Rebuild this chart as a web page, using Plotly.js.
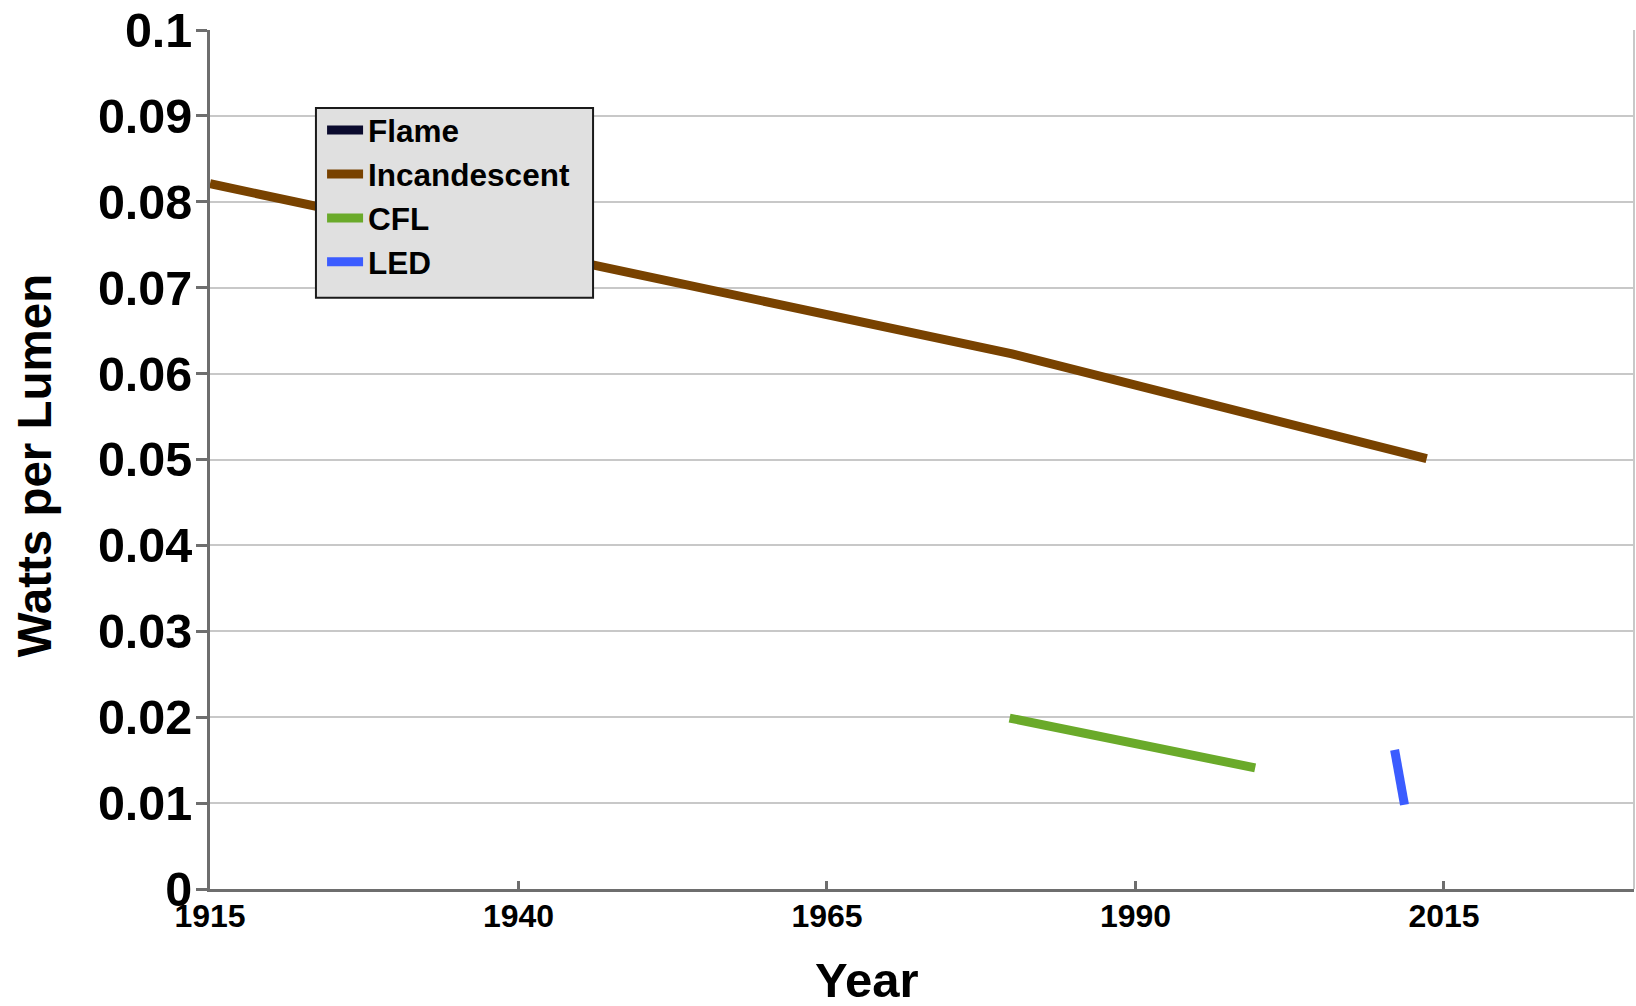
<!DOCTYPE html>
<html>
<head>
<meta charset="utf-8">
<script src="https://cdn.plot.ly/plotly-3.0.1.min.js"></script>
<style>
  html, body { margin: 0; padding: 0; background: #ffffff; }
  #chart { width: 1636px; height: 1006px; }
</style>
</head>
<body>
<div id="chart"></div>
<script>
// Lighting efficiency over time, in watts per lumen
const flameYears = [1915];
const flameWpl = [null];

const incandescentYears = [1915, 1980, 2013.6];
const incandescentWpl = [0.0821, 0.0623, 0.0501];

const cflYears = [1979.8, 1999.7];
const cflWpl = [0.0199, 0.0141];

const ledYears = [2011, 2011.8];
const ledWpl = [0.0162, 0.0098];

const xTickVals = [1915, 1940, 1965, 1990, 2015];
const xTickText = ['1915', '1940', '1965', '1990', '2015'];
const yTickVals = [0, 0.01, 0.02, 0.03, 0.04, 0.05, 0.06, 0.07, 0.08, 0.09, 0.1];
const yTickText = ['0', '0.01', '0.02', '0.03', '0.04', '0.05', '0.06', '0.07', '0.08', '0.09', '0.1'];

const FONT = 'Liberation Sans, Arial, Helvetica, sans-serif';
const AXIS_GRAY = '#6e6e6e';
const GRID_GRAY = '#c8c8c8';

function series(name, x, y, color) {
  return {
    type: 'scatter',
    mode: 'lines',
    name: name,
    x: x,
    y: y,
    connectgaps: false,
    line: { color: color, width: 9 },
    hoverinfo: 'x+y+name'
  };
}

const traces = [
  series('Flame', flameYears, flameWpl, '#0b0b2e'),
  series('Incandescent', incandescentYears, incandescentWpl, '#784200'),
  series('CFL', cflYears, cflWpl, '#6aaa2a'),
  series('LED', ledYears, ledWpl, '#3b5cff')
];

const layout = {
  width: 1636,
  height: 1006,
  margin: { l: 210, r: 2, t: 30, b: 116.5, pad: 0 },
  paper_bgcolor: '#ffffff',
  plot_bgcolor: '#ffffff',
  font: { family: FONT, color: '#000000' },
  showlegend: true,
  legend: {
    x: 0.0787, y: 0.915, xanchor: 'left', yanchor: 'top',
    bgcolor: 'rgba(0,0,0,0)', borderwidth: 0,
    itemwidth: 36,
    font: { family: FONT, size: 31.5, weight: 'bold', color: '#000000' },
    traceorder: 'normal'
  },
  xaxis: {
    range: [1915, 2030.4],
    tickmode: 'array',
    tickvals: xTickVals,
    ticktext: xTickText,
    ticks: 'inside', ticklen: 8, tickwidth: 3, tickcolor: AXIS_GRAY,
    ticklabelstandoff: -3,
    showline: true, linecolor: AXIS_GRAY, linewidth: 3,
    showgrid: false, zeroline: false,
    tickfont: { family: FONT, size: 32, weight: 'bold', color: '#000000' },
    fixedrange: true
  },
  yaxis: {
    range: [0, 0.1],
    tickmode: 'array',
    tickvals: yTickVals,
    ticktext: yTickText,
    ticks: 'outside', ticklen: 11, tickwidth: 3, tickcolor: AXIS_GRAY,
    ticklabelstandoff: -6,
    showline: true, linecolor: AXIS_GRAY, linewidth: 3,
    showgrid: true, gridcolor: GRID_GRAY, gridwidth: 2,
    zeroline: false,
    tickfont: { family: FONT, size: 48.5, weight: 'bold', color: '#000000' },
    fixedrange: true
  },
  shapes: [
    // right-hand frame line of the plot area
    {
      type: 'line', xref: 'x domain', yref: 'y domain',
      x0: 1, x1: 1, y0: 0, y1: 1,
      line: { color: GRID_GRAY, width: 2 }
    },
    // legend panel
    {
      type: 'rect', xref: 'paper', yref: 'paper', layer: 'above',
      x0: 0.0744, x1: 0.2690, y0: 0.6882, y1: 0.9093,
      fillcolor: '#e0e0e0',
      line: { color: '#1a1a1a', width: 2 }
    }
  ],
  annotations: [
    {
      text: 'Year', xref: 'paper', yref: 'paper',
      x: 0.4614, y: -0.1055, xanchor: 'center', yanchor: 'middle',
      showarrow: false,
      font: { family: FONT, size: 49, weight: 'bold', color: '#000000' }
    },
    {
      text: 'Watts per Lumen', xref: 'paper', yref: 'paper',
      x: -0.1232, y: 0.4927, xanchor: 'center', yanchor: 'middle',
      textangle: -90, showarrow: false,
      font: { family: FONT, size: 47.5, weight: 'bold', color: '#000000' }
    }
  ]
};

Plotly.newPlot('chart', traces, layout, { displayModeBar: false, staticPlot: true });
</script>
</body>
</html>
